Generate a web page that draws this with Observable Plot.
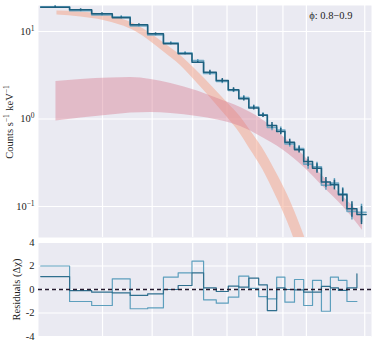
<!DOCTYPE html>
<html><head><meta charset="utf-8">
<script src="https://cdn.jsdelivr.net/npm/d3@7"></script>
<script src="https://cdn.jsdelivr.net/npm/@observablehq/plot@0.6"></script>
<style>
body{margin:0;background:#fff;}
#chart{position:relative;width:374px;height:345px;}
#chart svg{position:absolute;left:0;}
</style></head><body><div id="chart"></div>
<script>
// Energy bin edges (keV)
const binEdges = [3.03, 3.45, 3.81, 4.18, 4.53, 4.90, 5.26, 5.62, 5.98, 6.30, 6.67, 7.04, 7.38, 7.72, 8.07, 8.39, 8.75, 9.08, 9.48, 9.88, 10.28, 10.70, 11.14, 11.55, 12.00, 12.55, 13.08];
// Count rates (counts s^-1 keV^-1)
const countsA = [18.96, 17.70, 15.94, 14.34, 11.93, 9.41, 7.23, 5.56, 4.46, 3.43, 2.75, 2.16, 1.70, 1.34, 1.10, 0.842, 0.720, 0.543, 0.445, 0.327, 0.274, 0.190, 0.177, 0.136, 0.0941, 0.081];
const countsB = [19.2, 17.3, 15.5, 14.7, 11.6, 9.15, 7.45, 5.7, 4.65, 3.32, 2.68, 2.12, 1.76, 1.37, 1.12, 0.80, 0.75, 0.52, 0.46, 0.305, 0.285, 0.175, 0.185, 0.140, 0.088, 0.086];
// relative errors
const errA = [0.027, 0.027, 0.027, 0.027, 0.027, 0.027, 0.027, 0.027, 0.027, 0.054, 0.054, 0.054, 0.054, 0.054, 0.054, 0.082, 0.082, 0.082, 0.082, 0.126, 0.126, 0.126, 0.126, 0.171, 0.202, 0.234];
// residuals (delta chi)
const residA = [1.1, -0.1, -0.23, -0.28, -0.5, -0.37, 0.0, 0.34, 1.42, 0.14, -0.17, 0.28, 0.2, 0.96, 0.4, -1.79, 0.14, 0.0, -0.03, -0.23, -0.23, 0.26, 0.14, -0.08, 0.14, 1.34];
const residB = [2.0, -1.02, -1.36, 0.91, -1.64, -1.56, 1.05, 1.42, 2.41, -0.88, -1.16, -0.65, 1.13, 0.1, -0.6, -0.8, 1.05, -1.08, 0.85, -1.36, 0.77, -1.85, 1.05, 0.77, -1.02, -1.02];
// model component 1 (thermal) band
const bbE  = [3.26, 3.63, 4.02, 4.66, 5.27, 5.68, 6.13, 7.02, 7.41, 7.78, 8.21, 8.71, 9.19, 9.61, 9.96];
const bbHi = [17.15, 16.71, 15.64, 11.87, 7.39, 5.32, 3.49, 1.52, 1.08, 0.729, 0.466, 0.251, 0.1353, 0.0729, 0.042];
const bbLo = [15.44, 14.65, 13.36, 9.87, 5.83, 4.09, 2.55, 1.03, 0.692, 0.442, 0.268, 0.1335, 0.0665, 0.0331, 0.018];
// model component 2 (power law) band
const plE  = [3.245, 3.63, 4.15, 4.54, 4.97, 5.44, 6.13, 6.71, 7.44, 8.14, 9.03, 9.88, 10.80, 11.81, 12.87];
const plHi = [2.68, 2.83, 2.94, 2.98, 2.83, 2.55, 2.09, 1.715, 1.353, 1.013, 0.623, 0.383, 0.2174, 0.1284, 0.0789];
const plLo = [0.949, 1.027, 1.111, 1.171, 1.187, 1.156, 1.068, 0.974, 0.821, 0.631, 0.4365, 0.2827, 0.167, 0.0987, 0.0532];
// grid / ticks
const gridE = [4, 5, 6, 7, 8, 9, 10, 13];
const yTicks = [0.1, 1, 10];
const rTicks = [-4, -2, 0, 2, 4];
const phaseLabel = "ϕ: 0.8−0.9";

function stepPoints(edges, vals, openEnd) {
  const pts = [];
  vals.forEach((v, i) => {
    pts.push({E: edges[i], v});
    if (!(openEnd && i === vals.length - 1)) pts.push({E: edges[i + 1], v});
  });
  return pts;
}
const errPts = (vals, errs) => vals.map((v, i) => ({E: Math.sqrt(binEdges[i] * binEdges[i + 1]), lo: v * (1 - errs[i]), hi: v * (1 + errs[i])}));
const bbData = bbE.map((E, i) => ({E, lo: bbLo[i], hi: bbHi[i]}));
const plData = plE.map((E, i) => ({E, lo: plLo[i], hi: plHi[i]}));

const dark = "#1d5f7e", light = "#5d9fbd";
const serif = "'Liberation Serif', 'DejaVu Serif', serif";
const style = {fontFamily: serif, fontSize: "10.5px", background: "transparent", color: "#222"};
const xOpt = {type: "log", domain: [3.0, 13.4], axis: null};

const topPlot = Plot.plot({
  width: 374, height: 238, marginTop: 5, marginBottom: 1, marginLeft: 38, marginRight: 3,
  style, x: xOpt,
  y: {type: "log", domain: [0.0442, 19.83]},
  marks: [
    Plot.frame({fill: "#EAEAF2", stroke: null}),
    Plot.ruleX(gridE, {stroke: "white", strokeWidth: 1.2}),
    Plot.ruleY(yTicks, {stroke: "white", strokeWidth: 1.2}),
    Plot.areaY(bbData, {x: "E", y1: "lo", y2: "hi", fill: "#f4a58a", fillOpacity: 0.52, curve: "monotone-x", clip: true}),
    Plot.areaY(plData, {x: "E", y1: "lo", y2: "hi", fill: "#d67a90", fillOpacity: 0.42, curve: "monotone-x", clip: true}),
    Plot.line(stepPoints(binEdges, countsB), {x: "E", y: "v", stroke: light, strokeWidth: 1.6, strokeOpacity: 0.85}),
    Plot.ruleX(errPts(countsB, errA), {x: "E", y1: "lo", y2: "hi", stroke: light, strokeWidth: 1.5}),
    Plot.line(stepPoints(binEdges, countsA), {x: "E", y: "v", stroke: dark, strokeWidth: 1.5}),
    Plot.ruleX(errPts(countsA, errA), {x: "E", y1: "lo", y2: "hi", stroke: dark, strokeWidth: 1.5}),
    Plot.axisY({ticks: yTicks, tickFormat: d => "10^" + Math.round(Math.log10(d)), tickSize: 0, tickPadding: 3,
      label: "Counts s^-1 keV^-1", labelAnchor: "center", labelOffset: 33, labelArrow: false}),
    Plot.text([phaseLabel], {frameAnchor: "top-right", dx: -19, dy: 6, fontSize: 10.5, fontFamily: serif, fill: "#222"})
  ]
});

const botPlot = Plot.plot({
  width: 374, height: 107, marginTop: 4, marginBottom: 9, marginLeft: 38, marginRight: 3,
  style, x: xOpt,
  y: {domain: [-4, 4]},
  marks: [
    Plot.frame({fill: "#EAEAF2", stroke: null}),
    Plot.ruleX(gridE, {stroke: "white", strokeWidth: 1.2}),
    Plot.ruleY(rTicks, {stroke: "white", strokeWidth: 1.2}),
    Plot.line(stepPoints(binEdges, residB, true), {x: "E", y: "v", stroke: light, strokeWidth: 1.2}),
    Plot.line(stepPoints(binEdges, residA, true), {x: "E", y: "v", stroke: "#2f6f8e", strokeWidth: 1.2}),
    Plot.ruleY([0], {stroke: "#24192e", strokeWidth: 1.4, strokeDasharray: "4,3"}),
    Plot.axisY({ticks: rTicks, tickSize: 0, tickPadding: 4, tickFormat: d => String(d),
      label: "Residuals (Δχ)", labelAnchor: "center", labelOffset: 26, labelArrow: false})
  ]
});

function supify(svg) {
  d3.select(svg).selectAll("text").each(function () {
    const t = this.textContent;
    if (!t.includes("^")) return;
    const parts = t.split(/\^(\S+)/);
    const sel = d3.select(this);
    sel.text(null);
    parts.forEach((p, i) => {
      if (!p) return;
      if (i % 2 === 1) {
        sel.append("tspan").attr("dy", "-4").attr("font-size", "7.5px").text(p.replace("-", "−"));
        sel.append("tspan").attr("dy", "4").text("\u200a");
      } else {
        sel.append("tspan").text(p);
      }
    });
  });
}
supify(topPlot);
topPlot.style.top = "0px";
botPlot.style.top = "238px";
document.getElementById("chart").append(topPlot, botPlot);
</script></body></html>
